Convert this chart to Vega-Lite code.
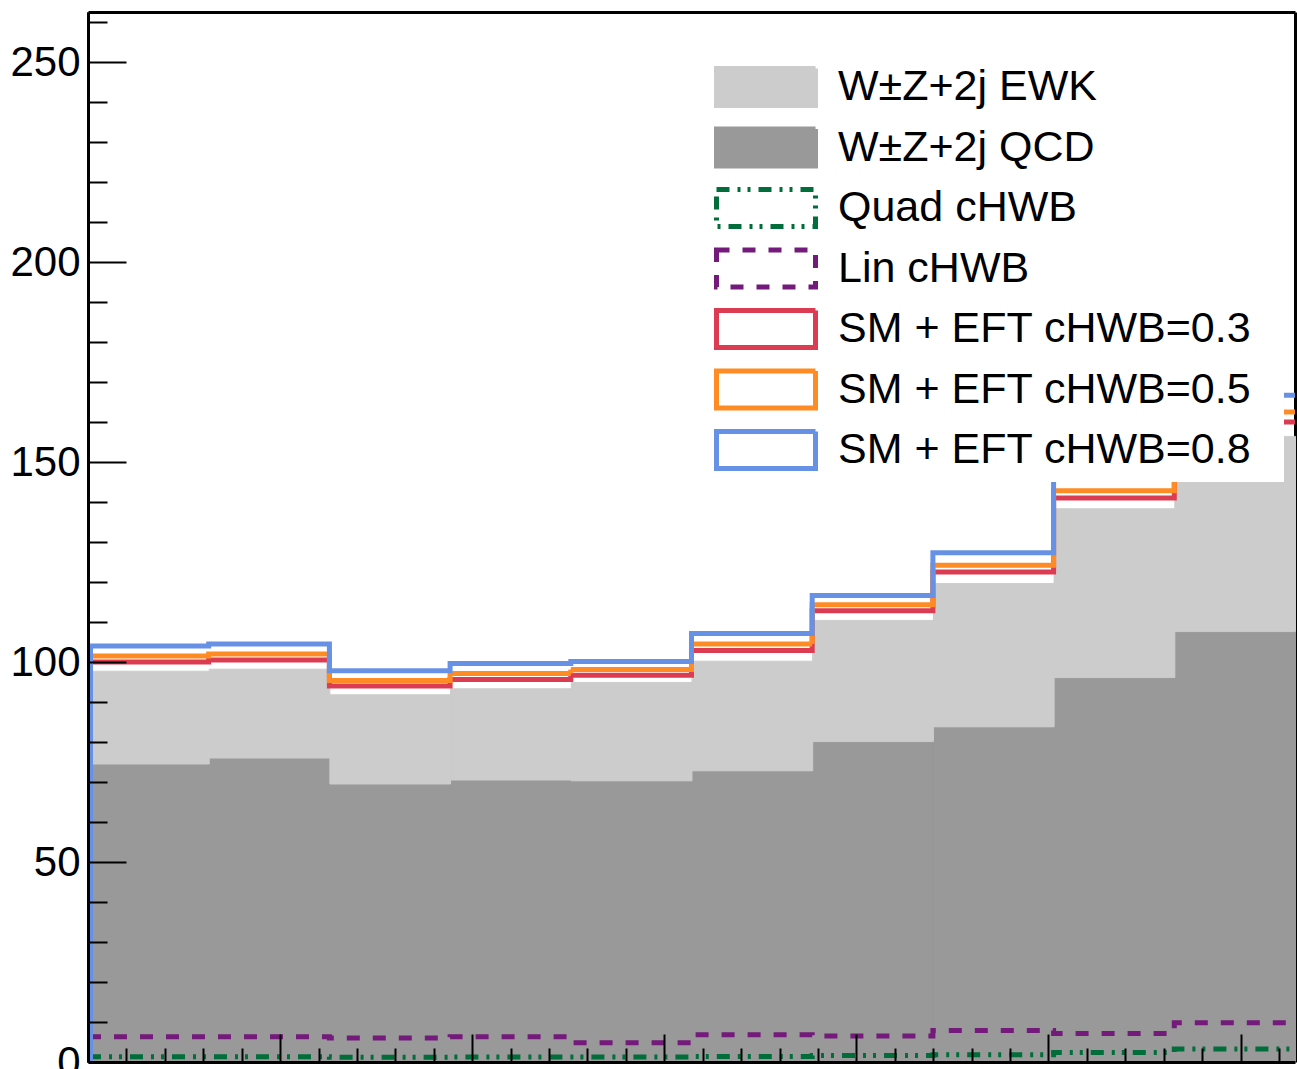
{
  "$schema": "https://vega.github.io/schema/vega-lite/v6.json",
  "width": 1207,
  "height": 1050,
  "autosize": {"type": "none"},
  "padding": {"left": 88, "top": 12, "right": 2, "bottom": 7},
  "background": "white",
  "config": {
    "view": {"stroke": null},
    "font": "Liberation Sans",
    "legend": {
      "orient": "none",
      "direction": "vertical",
      "legendX": 619,
      "legendY": 43,
      "symbolSize": 9801,
      "symbolStrokeWidth": 5,
      "labelFontSize": 43,
      "labelFont": "Liberation Sans",
      "labelColor": "black",
      "labelOffset": 20,
      "labelLimit": 0,
      "clipHeight": 50,
      "rowPadding": 10.5,
      "padding": 7,
      "fillColor": "white",
      "strokeColor": null
    }
  },
  "datasets": {
    "h": [
      {"s": "W±Z+2j QCD", "lo": 0, "hi": 0.314159, "v": 74.5},
      {"s": "W±Z+2j QCD", "lo": 0.314159, "hi": 0.628319, "v": 76.0},
      {"s": "W±Z+2j QCD", "lo": 0.628319, "hi": 0.942478, "v": 69.5},
      {"s": "W±Z+2j QCD", "lo": 0.942478, "hi": 1.256637, "v": 70.5},
      {"s": "W±Z+2j QCD", "lo": 1.256637, "hi": 1.570796, "v": 70.3},
      {"s": "W±Z+2j QCD", "lo": 1.570796, "hi": 1.884956, "v": 72.8},
      {"s": "W±Z+2j QCD", "lo": 1.884956, "hi": 2.199115, "v": 80.1},
      {"s": "W±Z+2j QCD", "lo": 2.199115, "hi": 2.513274, "v": 83.8},
      {"s": "W±Z+2j QCD", "lo": 2.513274, "hi": 2.827433, "v": 96.1},
      {"s": "W±Z+2j QCD", "lo": 2.827433, "hi": 3.141593, "v": 107.6},
      {"s": "W±Z+2j EWK", "lo": 0, "hi": 0.314159, "v": 23.2},
      {"s": "W±Z+2j EWK", "lo": 0.314159, "hi": 0.628319, "v": 22.2},
      {"s": "W±Z+2j EWK", "lo": 0.628319, "hi": 0.942478, "v": 22.3},
      {"s": "W±Z+2j EWK", "lo": 0.942478, "hi": 1.256637, "v": 22.8},
      {"s": "W±Z+2j EWK", "lo": 1.256637, "hi": 1.570796, "v": 24.6},
      {"s": "W±Z+2j EWK", "lo": 1.570796, "hi": 1.884956, "v": 27.4},
      {"s": "W±Z+2j EWK", "lo": 1.884956, "hi": 2.199115, "v": 30.3},
      {"s": "W±Z+2j EWK", "lo": 2.199115, "hi": 2.513274, "v": 35.8},
      {"s": "W±Z+2j EWK", "lo": 2.513274, "hi": 2.827433, "v": 42.2},
      {"s": "W±Z+2j EWK", "lo": 2.827433, "hi": 3.141593, "v": 48.8},
      {"s": "Quad cHWB", "lo": 0, "hi": 0.314159, "v": 1.3},
      {"s": "Quad cHWB", "lo": 0.314159, "hi": 0.628319, "v": 1.3},
      {"s": "Quad cHWB", "lo": 0.628319, "hi": 0.942478, "v": 1.2},
      {"s": "Quad cHWB", "lo": 0.942478, "hi": 1.256637, "v": 1.25},
      {"s": "Quad cHWB", "lo": 1.256637, "hi": 1.570796, "v": 1.25},
      {"s": "Quad cHWB", "lo": 1.570796, "hi": 1.884956, "v": 1.4},
      {"s": "Quad cHWB", "lo": 1.884956, "hi": 2.199115, "v": 1.6},
      {"s": "Quad cHWB", "lo": 2.199115, "hi": 2.513274, "v": 1.8},
      {"s": "Quad cHWB", "lo": 2.513274, "hi": 2.827433, "v": 2.4},
      {"s": "Quad cHWB", "lo": 2.827433, "hi": 3.141593, "v": 3.25},
      {"s": "Lin cHWB", "lo": 0, "hi": 0.314159, "v": 6.3},
      {"s": "Lin cHWB", "lo": 0.314159, "hi": 0.628319, "v": 6.3},
      {"s": "Lin cHWB", "lo": 0.628319, "hi": 0.942478, "v": 6.0},
      {"s": "Lin cHWB", "lo": 0.942478, "hi": 1.256637, "v": 6.3},
      {"s": "Lin cHWB", "lo": 1.256637, "hi": 1.570796, "v": 4.8},
      {"s": "Lin cHWB", "lo": 1.570796, "hi": 1.884956, "v": 6.8},
      {"s": "Lin cHWB", "lo": 1.884956, "hi": 2.199115, "v": 6.5},
      {"s": "Lin cHWB", "lo": 2.199115, "hi": 2.513274, "v": 7.9},
      {"s": "Lin cHWB", "lo": 2.513274, "hi": 2.827433, "v": 7.1},
      {"s": "Lin cHWB", "lo": 2.827433, "hi": 3.141593, "v": 9.8},
      {"s": "SM + EFT cHWB=0.3", "lo": 0, "hi": 0.314159, "v": 100.0},
      {"s": "SM + EFT cHWB=0.3", "lo": 0.314159, "hi": 0.628319, "v": 100.5},
      {"s": "SM + EFT cHWB=0.3", "lo": 0.628319, "hi": 0.942478, "v": 94.0},
      {"s": "SM + EFT cHWB=0.3", "lo": 0.942478, "hi": 1.256637, "v": 95.6},
      {"s": "SM + EFT cHWB=0.3", "lo": 1.256637, "hi": 1.570796, "v": 96.7},
      {"s": "SM + EFT cHWB=0.3", "lo": 1.570796, "hi": 1.884956, "v": 102.9},
      {"s": "SM + EFT cHWB=0.3", "lo": 1.884956, "hi": 2.199115, "v": 112.8},
      {"s": "SM + EFT cHWB=0.3", "lo": 2.199115, "hi": 2.513274, "v": 122.5},
      {"s": "SM + EFT cHWB=0.3", "lo": 2.513274, "hi": 2.827433, "v": 141.0},
      {"s": "SM + EFT cHWB=0.3", "lo": 2.827433, "hi": 3.141593, "v": 160.0},
      {"s": "SM + EFT cHWB=0.5", "lo": 0, "hi": 0.314159, "v": 101.5},
      {"s": "SM + EFT cHWB=0.5", "lo": 0.314159, "hi": 0.628319, "v": 102.0},
      {"s": "SM + EFT cHWB=0.5", "lo": 0.628319, "hi": 0.942478, "v": 95.4},
      {"s": "SM + EFT cHWB=0.5", "lo": 0.942478, "hi": 1.256637, "v": 97.1},
      {"s": "SM + EFT cHWB=0.5", "lo": 1.256637, "hi": 1.570796, "v": 98.1},
      {"s": "SM + EFT cHWB=0.5", "lo": 1.570796, "hi": 1.884956, "v": 104.5},
      {"s": "SM + EFT cHWB=0.5", "lo": 1.884956, "hi": 2.199115, "v": 114.3},
      {"s": "SM + EFT cHWB=0.5", "lo": 2.199115, "hi": 2.513274, "v": 124.2},
      {"s": "SM + EFT cHWB=0.5", "lo": 2.513274, "hi": 2.827433, "v": 142.8},
      {"s": "SM + EFT cHWB=0.5", "lo": 2.827433, "hi": 3.141593, "v": 162.5},
      {"s": "SM + EFT cHWB=0.8", "lo": 0, "hi": 0.314159, "v": 104.0},
      {"s": "SM + EFT cHWB=0.8", "lo": 0.314159, "hi": 0.628319, "v": 104.5},
      {"s": "SM + EFT cHWB=0.8", "lo": 0.628319, "hi": 0.942478, "v": 97.8},
      {"s": "SM + EFT cHWB=0.8", "lo": 0.942478, "hi": 1.256637, "v": 99.6},
      {"s": "SM + EFT cHWB=0.8", "lo": 1.256637, "hi": 1.570796, "v": 100.1},
      {"s": "SM + EFT cHWB=0.8", "lo": 1.570796, "hi": 1.884956, "v": 107.1},
      {"s": "SM + EFT cHWB=0.8", "lo": 1.884956, "hi": 2.199115, "v": 116.6},
      {"s": "SM + EFT cHWB=0.8", "lo": 2.199115, "hi": 2.513274, "v": 127.3},
      {"s": "SM + EFT cHWB=0.8", "lo": 2.513274, "hi": 2.827433, "v": 145.8},
      {"s": "SM + EFT cHWB=0.8", "lo": 2.827433, "hi": 3.141593, "v": 166.7}
    ]
  },
  "data": {"name": "h"},
  "resolve": {"axis": {"x": "independent", "y": "independent"}},
  "layer": [
    {
      "transform": [{"filter": {"field": "s", "oneOf": ["W±Z+2j EWK", "W±Z+2j QCD"]}}],
      "mark": {"type": "bar", "binSpacing": 0, "strokeWidth": 1},
      "encoding": {
        "x": {
          "field": "lo", "type": "quantitative", "bin": "binned",
          "scale": {"domain": [0, 3.141593], "nice": false, "zero": false},
          "axis": {
            "title": null, "orient": "bottom",
            "values": [0, 0.1, 0.2, 0.3, 0.4, 0.5, 0.6, 0.7, 0.8, 0.9, 1.0, 1.1, 1.2, 1.3, 1.4, 1.5, 1.6, 1.7, 1.8, 1.9, 2.0, 2.1, 2.2, 2.3, 2.4, 2.5, 2.6, 2.7, 2.8, 2.9, 3.0, 3.1],
            "tickSize": {"condition": {"test": "abs(datum.value*2 - round(datum.value*2)) < 0.001", "value": -28}, "value": -14},
            "labels": false, "tickColor": "black", "tickWidth": 2,
            "domainColor": "black", "domainWidth": 3, "grid": false, "zindex": 1
          }
        },
        "x2": {"field": "hi"},
        "y": {
          "field": "v", "type": "quantitative", "stack": "zero",
          "scale": {"domain": [0, 262.5], "nice": false, "zero": false},
          "axis": {
            "title": null, "orient": "left",
            "values": [0, 50, 100, 150, 200, 250],
            "tickSize": -38,
            "labelPadding": 46, "labelFontSize": 42, "labelFont": "Liberation Sans", "labelColor": "black",
            "labelOverlap": false, "labelFlush": false, "labelBound": false,
            "tickColor": "black", "tickWidth": 2,
            "domainColor": "black", "domainWidth": 3, "grid": false, "zindex": 1
          }
        },
        "fill": {
          "field": "s", "type": "nominal",
          "scale": {
            "domain": ["W±Z+2j EWK", "W±Z+2j QCD", "Quad cHWB", "Lin cHWB", "SM + EFT cHWB=0.3", "SM + EFT cHWB=0.5", "SM + EFT cHWB=0.8"],
            "range": ["#cccccc", "#999999", "white", "white", "white", "white", "white"]
          },
          "legend": {"title": "M", "titleOrient": "right", "titleColor": "white", "titleFontSize": 16, "titlePadding": 12, "symbolType": "M-1,-0.3737H1V0.3737H-1Z", "zindex": 2}
        },
        "stroke": {
          "field": "s", "type": "nominal",
          "scale": {
            "domain": ["W±Z+2j EWK", "W±Z+2j QCD", "Quad cHWB", "Lin cHWB", "SM + EFT cHWB=0.3", "SM + EFT cHWB=0.5", "SM + EFT cHWB=0.8"],
            "range": ["#cccccc", "#999999", "#006d3a", "#731a7b", "#dc3c52", "#ff8b25", "#6791e5"]
          },
          "legend": {"title": "M", "titleOrient": "right", "titleColor": "white", "titleFontSize": 16, "titlePadding": 12, "symbolType": "M-1,-0.3737H1V0.3737H-1Z", "zindex": 2}
        },
        "order": {"field": "s", "type": "nominal", "sort": "descending"}
      }
    },
    {
      "transform": [
        {"filter": {"field": "s", "oneOf": ["Quad cHWB", "Lin cHWB", "SM + EFT cHWB=0.3", "SM + EFT cHWB=0.5", "SM + EFT cHWB=0.8"]}},
        {"fold": ["lo", "hi"], "as": ["k", "edge"]}
      ],
      "mark": {"type": "line", "strokeWidth": 5, "strokeCap": "butt", "strokeJoin": "miter"},
      "encoding": {
        "x": {
          "field": "edge", "type": "quantitative",
          "scale": {"domain": [0, 3.141593], "nice": false, "zero": false},
          "axis": {"title": null, "orient": "top", "ticks": false, "labels": false, "domainColor": "black", "domainWidth": 3, "grid": false, "zindex": 1}
        },
        "y": {
          "field": "v", "type": "quantitative",
          "scale": {"domain": [0, 262.5], "nice": false, "zero": false},
          "axis": {
            "title": null, "orient": "left",
            "values": [10, 20, 30, 40, 60, 70, 80, 90, 110, 120, 130, 140, 160, 170, 180, 190, 210, 220, 230, 240, 260],
            "tickSize": -19, "labels": false,
            "tickColor": "black", "tickWidth": 2,
            "domainColor": "black", "domainWidth": 3, "grid": false, "zindex": 1
          }
        },
        "stroke": {
          "field": "s", "type": "nominal",
          "scale": {
            "domain": ["W±Z+2j EWK", "W±Z+2j QCD", "Quad cHWB", "Lin cHWB", "SM + EFT cHWB=0.3", "SM + EFT cHWB=0.5", "SM + EFT cHWB=0.8"],
            "range": ["#cccccc", "#999999", "#006d3a", "#731a7b", "#dc3c52", "#ff8b25", "#6791e5"]
          },
          "legend": {"title": "M", "titleOrient": "right", "titleColor": "white", "titleFontSize": 16, "titlePadding": 12, "symbolType": "M-1,-0.3737H1V0.3737H-1Z", "zindex": 2}
        },
        "strokeDash": {
          "field": "s", "type": "nominal",
          "scale": {
            "domain": ["W±Z+2j EWK", "W±Z+2j QCD", "Quad cHWB", "Lin cHWB", "SM + EFT cHWB=0.3", "SM + EFT cHWB=0.5", "SM + EFT cHWB=0.8"],
            "range": [[1, 0], [1, 0], [13, 8, 3, 7, 3, 8], [13, 13], [1, 0], [1, 0], [1, 0]]
          },
          "legend": {"title": "M", "titleOrient": "right", "titleColor": "white", "titleFontSize": 16, "titlePadding": 12, "symbolType": "M-1,-0.3737H1V0.3737H-1Z", "zindex": 2}
        },
        "order": [{"field": "edge", "type": "quantitative"}, {"field": "k", "type": "nominal"}]
      }
    },
    {
      "transform": [{"filter": "datum.s === 'SM + EFT cHWB=0.8' && datum.lo === 0"}],
      "mark": {"type": "rule", "strokeWidth": 10, "clip": true, "color": "#6791e5"},
      "encoding": {
        "x": {"field": "lo", "type": "quantitative", "scale": {"domain": [0, 3.141593], "nice": false, "zero": false}, "axis": null},
        "y": {
          "field": "v", "type": "quantitative",
          "scale": {"domain": [0, 262.5], "nice": false, "zero": false},
          "axis": {"title": null, "orient": "right", "ticks": false, "labels": false, "domainColor": "black", "domainWidth": 3, "grid": false, "zindex": 0}
        },
        "y2": {"datum": 0}
      }
    }
  ]
}
